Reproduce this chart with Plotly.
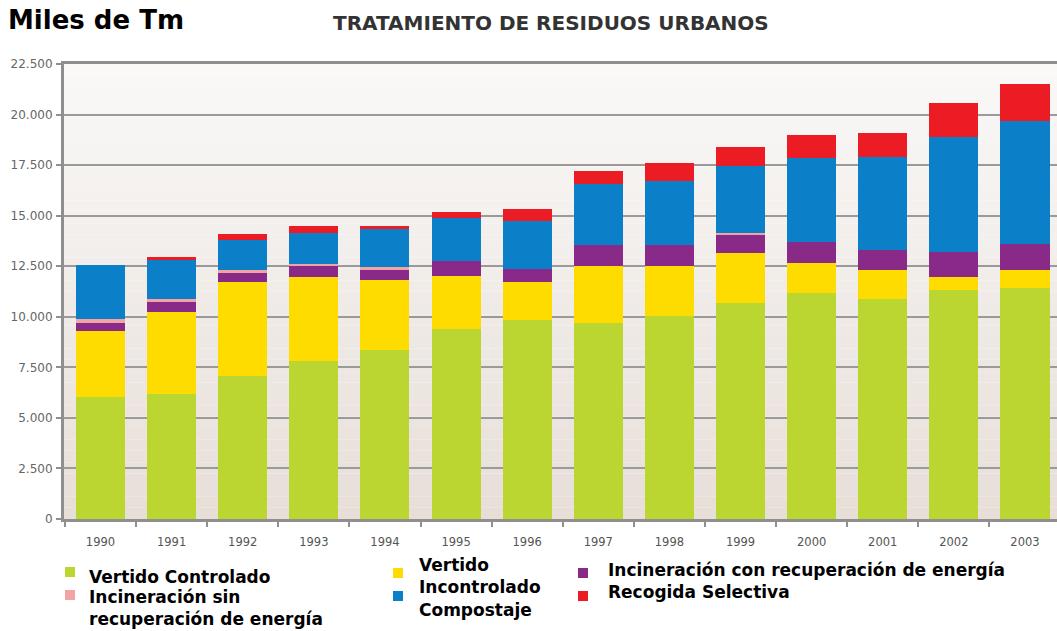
import plotly.graph_objects as go

# ---------------- data ----------------
years = ["1990", "1991", "1992", "1993", "1994", "1995", "1996",
         "1997", "1998", "1999", "2000", "2001", "2002", "2003"]

vertido_controlado = [6030, 6200, 7070, 7800, 8380, 9390, 9840,
                      9710, 10050, 10670, 11170, 10870, 11330, 11420]
vertido_incontrolado = [3260, 4020, 4660, 4190, 3450, 2640, 1900,
                        2780, 2440, 2490, 1490, 1460, 660, 880]
incin_con_recup = [380, 500, 480, 500, 500, 750, 630,
                   1080, 1080, 920, 1020, 960, 1210, 1310]
incin_sin_recup = [200, 160, 80, 130, 130, 0, 0,
                   0, 0, 60, 0, 0, 0, 0]
compostaje = [2700, 1940, 1530, 1540, 1900, 2120, 2390,
              3020, 3120, 3320, 4190, 4590, 5670, 6060]
recogida_selectiva = [0, 160, 250, 350, 150, 280, 580,
                      630, 890, 960, 1110, 1210, 1700, 1850]

series_names = ["Vertido Controlado", "Vertido<br>Incontrolado",
                "Incineración con recuperación de energía",
                "Incineración sin<br>recuperación de energía",
                "Compostaje", "Recogida Selectiva"]
series_values = [vertido_controlado, vertido_incontrolado, incin_con_recup,
                 incin_sin_recup, compostaje, recogida_selectiva]
series_colors = ["#bcd631", "#ffdc00", "#8a2a88", "#f2a3a3", "#0b80c8", "#ec1c24"]

y_tickvals = [0, 2500, 5000, 7500, 10000, 12500, 15000, 17500, 20000, 22500]
y_ticktext = ["0", "2.500", "5.000", "7.500", "10.000", "12.500",
              "15.000", "17.500", "20.000", "22.500"]

title_text = "TRATAMIENTO DE RESIDUOS URBANOS"
unit_text = "Miles de Tm"

# ---------------- layout helpers (pixel -> paper) ----------------
W, H = 1057, 631
L, T, B = 64, 64, 112
PW, PH = W - L, H - T - B


def px(x):
    return (x - L) / PW


def py(y):
    return (H - B - y) / PH


fig = go.Figure()
for name, vals, col in zip(series_names, series_values, series_colors):
    fig.add_trace(go.Bar(x=years, y=vals, name=name.replace("<br>", " "),
                         marker=dict(color=col, line=dict(width=0)),
                         showlegend=False))

shapes = []
# gradient background of the plot area
top_c = (250, 249, 248)
bot_c = (231, 222, 216)
nb = 40
for i in range(nb):
    t = (i + 0.5) / nb
    c = tuple(round(top_c[k] + (bot_c[k] - top_c[k]) * t) for k in range(3))
    shapes.append(dict(type="rect", xref="paper", yref="paper",
                       x0=0, x1=1, y0=1 - (i + 1) / nb, y1=1 - i / nb,
                       fillcolor="rgb(%d,%d,%d)" % c, line=dict(width=0),
                       layer="below"))

# custom legend
legend_items = [
    (0, 65, 572, 87, 577),    # Vertido Controlado
    (3, 65, 595, 87, 608),    # Incineración sin recuperación
    (1, 393, 573, 417, 576),  # Vertido Incontrolado
    (4, 393, 596, 417, 610),  # Compostaje
    (2, 578, 573, 606, 570),  # Incineración con recuperación
    (5, 578, 596, 606, 592),  # Recogida Selectiva
]
annotations = []
for idx, sx, sy, tx, ty in legend_items:
    shapes.append(dict(type="rect", xref="paper", yref="paper",
                       x0=px(sx), x1=px(sx + 10), y0=py(sy + 5), y1=py(sy - 5),
                       fillcolor=series_colors[idx], line=dict(width=0)))
    annotations.append(dict(text=series_names[idx], xref="paper", yref="paper",
                            x=px(tx), y=py(ty), xanchor="left", yanchor="middle",
                            showarrow=False, align="left",
                            font=dict(family="DejaVu Sans", size=17,
                                      color="#000000", weight="bold")))

annotations.append(dict(text=title_text, xref="paper", yref="paper",
                        x=px(551), y=py(23), xanchor="center", yanchor="middle",
                        showarrow=False,
                        font=dict(family="DejaVu Sans", size=20,
                                  color="#333333", weight="bold")))
annotations.append(dict(text=unit_text, xref="paper", yref="paper",
                        x=px(6), y=py(20), xanchor="left", yanchor="middle",
                        showarrow=False,
                        font=dict(family="DejaVu Sans", size=26,
                                  color="#000000", weight="bold")))

fig.update_layout(
    width=W, height=H,
    margin=dict(l=L, r=0, t=T, b=B, pad=0),
    barmode="stack", bargap=0.31,
    paper_bgcolor="white", plot_bgcolor="rgba(0,0,0,0)",
    shapes=shapes, annotations=annotations,
    showlegend=False,
    xaxis=dict(type="category", categoryorder="array", categoryarray=years,
               range=[-0.513, 13.45], tickson="boundaries",
               ticks="outside", ticklen=5, tickwidth=2, tickcolor="#8f8f8f",
               showline=True, linecolor="#8f8f8f", linewidth=3, mirror=True,
               showgrid=False, ticklabelstandoff=10, automargin=False,
               tickfont=dict(family="DejaVu Sans", size=11.5, color="#555555")),
    yaxis=dict(range=[0, 22500], tickvals=y_tickvals, ticktext=y_ticktext,
               ticks="outside", ticklen=5, tickwidth=2, tickcolor="#8f8f8f",
               showline=True, linecolor="#8f8f8f", linewidth=3,
               showgrid=True, gridcolor="#9a9a9a", gridwidth=2,
               zeroline=False, ticklabelstandoff=1, automargin=False,
               tickfont=dict(family="DejaVu Sans", size=12, color="#666666")),
)

fig.write_html("out.html",
               config={"displayModeBar": False},
               post_script="document.body.style.margin='0';"
                           "document.body.style.padding='0';"
                           "document.body.style.overflow='hidden';")
